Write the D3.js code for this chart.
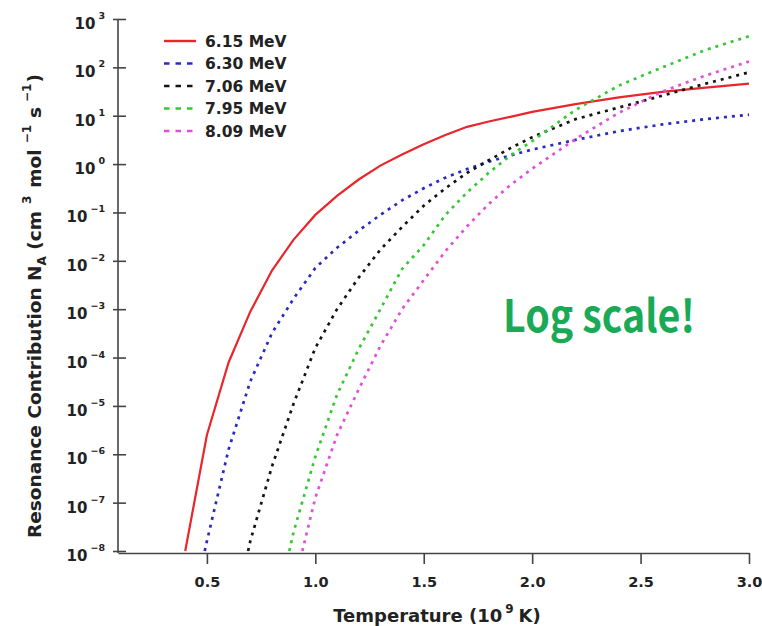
<!DOCTYPE html>
<html><head><meta charset="utf-8">
<script src="https://cdn.jsdelivr.net/npm/d3@7"></script>
<style>
body{margin:0;background:#fff}
svg{display:block}
text{font-family:"DejaVu Sans",sans-serif;font-weight:bold;fill:#222}
</style>
</head><body>
<svg id="chart" width="762" height="626"></svg>
<script>
// ---- data ----
const seriesLabels = ["6.15 MeV", "6.30 MeV", "7.06 MeV", "7.95 MeV", "8.09 MeV"];

const temp615 = [0.40,0.50,0.60,0.70,0.80,0.90,1.00,1.10,1.20,1.30,1.40,1.50,1.60,1.70,1.80,1.90,2.00,2.20,2.40,2.60,2.80,3.00];
const rate615 = [1e-8,2.5e-6,7.9e-5,8.9e-4,6.3e-3,2.75e-2,8.9e-2,0.22,0.48,0.93,1.58,2.57,4.0,5.9,7.6,9.5,12.0,17.4,24,31,38,46];

const temp630 = [0.49,0.50,0.60,0.70,0.80,0.90,1.00,1.10,1.20,1.30,1.40,1.50,1.60,1.70,1.80,1.90,2.00,2.20,2.40,2.60,2.80,3.00];
const rate630 = [1e-8,1.6e-8,1.26e-6,3.2e-5,3.2e-4,1.66e-3,7.1e-3,1.86e-2,4.2e-2,8.9e-2,0.178,0.316,0.525,0.79,1.12,1.51,2.0,3.16,4.8,6.6,8.5,10.5];

const temp706 = [0.69,0.70,0.80,0.90,1.00,1.10,1.20,1.30,1.40,1.50,1.60,1.70,1.80,1.90,2.00,2.20,2.40,2.60,2.80,3.00];
const rate706 = [1e-8,1.6e-8,5.6e-7,1.12e-5,1.58e-4,1.0e-3,4.5e-3,1.7e-2,5.0e-2,0.138,0.316,0.66,1.2,2.14,3.6,8.5,14.8,26,46,79];

const temp795 = [0.88,0.90,1.00,1.10,1.20,1.30,1.40,1.50,1.60,1.70,1.80,1.90,2.00,2.20,2.40,2.60,2.80,3.00];
const rate795 = [1e-8,2.5e-8,8.9e-7,1.7e-5,1.5e-4,1.0e-3,6.8e-3,2.1e-2,8.9e-2,0.26,0.66,1.51,3.0,13.2,42,100,229,440];

const temp809 = [0.94,1.00,1.10,1.20,1.30,1.40,1.50,1.60,1.70,1.80,1.90,2.00,2.20,2.40,2.60,2.80,3.00];
const rate809 = [1e-8,1.26e-7,2.5e-6,2.2e-5,1.74e-4,1.0e-3,4.0e-3,1.58e-2,5.2e-2,0.15,0.37,0.8,3.3,11.5,31.6,68,132];

const xTicks = [0.5, 1.0, 1.5, 2.0, 2.5, 3.0];
const yTickExponents = [-8,-7,-6,-5,-4,-3,-2,-1,0,1,2,3];

// ---- styles ----
const colors = ["#e8262b", "#2a2ac0", "#141414", "#35c832", "#e24fd9"];

const series = [
  {t: temp615, n: rate615}, {t: temp630, n: rate630}, {t: temp706, n: rate706},
  {t: temp795, n: rate795}, {t: temp809, n: rate809}
];

const svg = d3.select("#chart");
const x = d3.scaleLinear().domain([0.09, 3.0]).range([118, 749]);
const y = d3.scaleLog().domain([1e-8, 1e3]).range([551, 19]);
const axisColor = "#444";

// x axis
const gx = svg.append("g").attr("transform", "translate(0,553)")
  .call(d3.axisBottom(x).tickValues(xTicks).tickSize(11).tickSizeOuter(0).tickFormat(d3.format(".1f")));
gx.select(".domain").attr("stroke", axisColor).attr("stroke-width", 1.6);
gx.selectAll(".tick line").attr("stroke", axisColor).attr("stroke-width", 1.6);
gx.selectAll(".tick text").attr("y", 24).attr("dy", "0.71em")
  .style("font-family", "'DejaVu Sans',sans-serif").style("font-weight", "bold")
  .style("font-size", "14.5px").attr("fill", "#222");

// y axis
const yTickVals = yTickExponents.map(e => Math.pow(10, e));
const gy = svg.append("g").attr("transform", "translate(118,0)")
  .call(d3.axisLeft(y).tickValues(yTickVals).tickSize(5).tickSizeOuter(0).tickFormat(""));
gy.select(".domain").attr("stroke", axisColor).attr("stroke-width", 1.6).attr("d", "M0,19V553");
gy.selectAll(".tick line").attr("x1", -5).attr("x2", 8).attr("stroke", axisColor).attr("stroke-width", 1.6);
gy.selectAll(".tick").each(function(d, i) {
  const t = d3.select(this).append("text")
    .attr("x", -13).attr("y", 9.5).attr("text-anchor", "end")
    .style("font-size", "15px");
  t.append("tspan").text("10");
  t.append("tspan").attr("dx", 3).attr("dy", -10).style("font-size", "9.5px")
    .text(yTickExponents[i] < 0 ? "\u2212" + Math.abs(yTickExponents[i]) : String(yTickExponents[i]));
});

// curves
const line = d3.line().x(d => x(d[0])).y(d => y(d[1]));
series.forEach((s, i) => {
  const pts = s.t.map((t, j) => [t, s.n[j]]);
  svg.append("path").datum(pts)
    .attr("d", line).attr("fill", "none")
    .attr("stroke", colors[i])
    .attr("stroke-width", i === 0 ? 2.2 : 2.7)
    .attr("stroke-dasharray", i === 0 ? null : "3,5");
});

// legend
const legend = svg.append("g");
seriesLabels.forEach((lab, i) => {
  const ly = 41 + i * 22.5;
  legend.append("line").attr("x1", 164).attr("x2", i === 0 ? 196 : 193)
    .attr("y1", ly).attr("y2", ly)
    .attr("stroke", colors[i]).attr("stroke-width", i === 0 ? 2.4 : 2.7)
    .attr("stroke-dasharray", i === 0 ? null : "5.5,6");
  legend.append("text").attr("x", 205).attr("y", ly).attr("dy", "0.36em")
    .style("font-size", "15.5px").text(lab);
});

// axis titles
const xt = svg.append("text").attr("x", 437).attr("y", 622).attr("text-anchor", "middle")
  .style("font-size", "18px");
xt.append("tspan").text("Temperature (10");
xt.append("tspan").attr("dx", 3).attr("dy", -9).style("font-size", "12px").text("9");
xt.append("tspan").attr("dx", 5).attr("dy", 9).text("K)");

const yt = svg.append("text").attr("transform", "translate(41,306) rotate(-90)")
  .attr("text-anchor", "middle").style("font-size", "18.5px");
yt.append("tspan").text("Resonance Contribution N");
yt.append("tspan").attr("dy", 5).style("font-size", "12px").text("A");
yt.append("tspan").attr("dy", -5).text(" (cm");
yt.append("tspan").attr("dx", 7).attr("dy", -10).style("font-size", "12px").text("3");
yt.append("tspan").attr("dx", 8).attr("dy", 10).text("mol");
yt.append("tspan").attr("dx", 6).attr("dy", -10).style("font-size", "12px").text("\u22121");
yt.append("tspan").attr("dx", 7).attr("dy", 10).text("s");
yt.append("tspan").attr("dx", 5).attr("dy", -10).style("font-size", "12px").text("\u22121");
yt.append("tspan").attr("dx", 1).attr("dy", 10).text(")");

// annotation
svg.append("text").attr("x", 503).attr("y", 332)
  .attr("textLength", 192).attr("lengthAdjust", "spacingAndGlyphs")
  .style("font-family", "'Noto Sans CJK JP','Noto Sans',sans-serif")
  .style("font-weight", "bold").style("font-size", "45px")
  .style("fill", "#1aaa57").text("Log scale!");
</script>
</body></html>
